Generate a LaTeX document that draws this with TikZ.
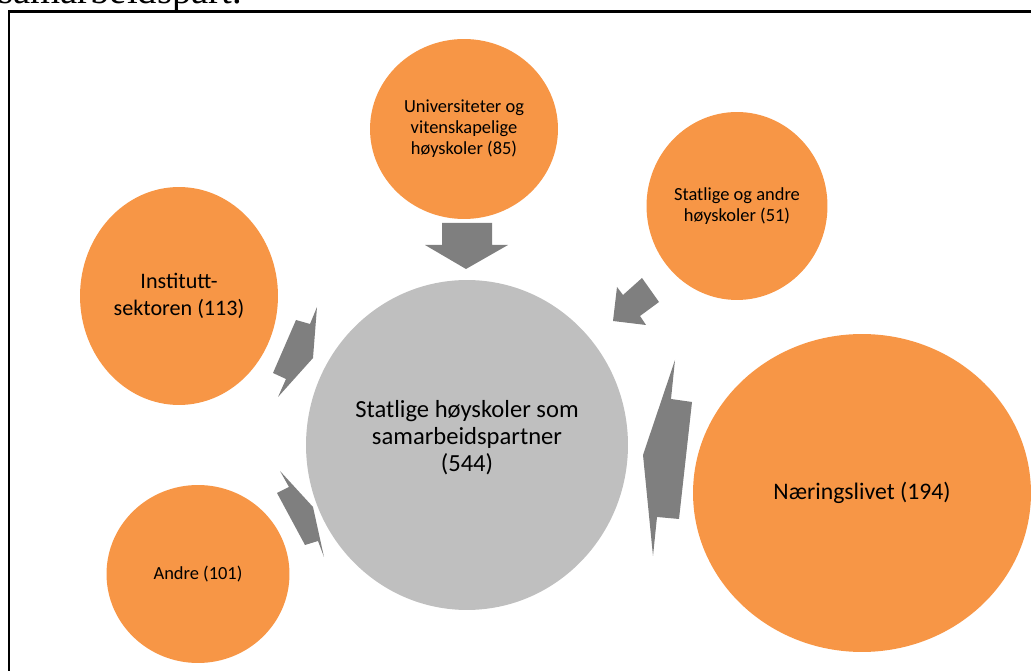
\documentclass[tikz,border=0pt]{standalone}
\usepackage{fontspec}
\setmainfont{Carlito}
\newfontfamily\capfont{Liberation Serif}
\usepackage{xcolor}
\usepackage{tikz}
\usetikzlibrary{shapes.geometric}

\definecolor{bubbleorange}{HTML}{F79646}
\definecolor{hubgrey}{HTML}{BFBFBF}
\definecolor{arrowgrey}{HTML}{7F7F7F}

\begin{document}
\begin{tikzpicture}[
  x=0.02cm, y=-0.02cm,
  bubble/.style={ellipse, fill=bubbleorange, inner sep=0pt, align=center},
  small/.style={font=\fontsize{10.5pt}{11.9pt}\selectfont},
  large/.style={font=\fontsize{12.6pt}{15.2pt}\selectfont},
  huge/.style={font=\fontsize{14pt}{15.3pt}\selectfont},
  hub/.style={bubble, fill=hubgrey},
  blockarrow/.style={fill=arrowgrey},
]
\useasboundingbox (0,0) rectangle (1031,671);
\clip (0,0) rectangle (1031,671);

%% Caption line (cut off) and frame
\node (cap) [anchor=base west, inner sep=0pt, font=\capfont\fontsize{22pt}{26pt}\selectfont] at (-2,4) {samarbeidspart.};
\draw[line width=1.7pt] (9,12) rectangle (1060,700);

%% Bubbles
\node (hub)   [hub, minimum width=6.44cm, minimum height=6.6cm] at (467,445) {};
\node (hubtext) [huge, align=center] at (467,438)
  {Statlige høyskoler som\\samarbeidspartner\\(544)};
\node (uni)   [bubble, small, minimum width=3.76cm, minimum height=3.6cm] at (464,129)
  {Universiteter og\\vitenskapelige\\høyskoler (85)};
\node (stat)  [bubble, small, minimum width=3.62cm, minimum height=3.76cm] at (737,206)
  {Statlige og andre\\høyskoler (51)};
\node (inst)  [bubble, large, minimum width=3.96cm, minimum height=4.36cm] at (179,296)
  {Institutt-\\sektoren (113)};
\node (naer)  [bubble, font=\fontsize{13.5pt}{15pt}\selectfont, minimum width=6.76cm, minimum height=6.36cm] at (862,493)
  {Næringslivet (194)};
\node (andre) [bubble, small, minimum width=3.66cm, minimum height=3.56cm] at (198,574)
  {Andre (101)};

%% Arrows into the hub
\fill[blockarrow] (442,223) -- (492,223) -- (492,245) -- (508,245) -- (466,269)
  -- (425,245) -- (442,245) -- cycle;
\fill[blockarrow] (642,278) -- (659,302) -- (640,316) -- (646,325) -- (613,321)
  -- (617,287) -- (623,295) -- cycle;
\fill[blockarrow] (317,307) -- (313,358) -- (278,397) -- (286,379) -- (273,373)
  -- (296,320) -- (310,324) -- cycle;
\fill[blockarrow] (280,471) -- (313,507) -- (324,557) -- (318,541) -- (305,545)
  -- (277,493) -- (289,487) -- cycle;
\fill[blockarrow] (675,360) -- (671,399) -- (692,402) -- (679,519) -- (657,517)
  -- (653,556) -- (643,455) -- cycle;

\end{tikzpicture}
\end{document}
